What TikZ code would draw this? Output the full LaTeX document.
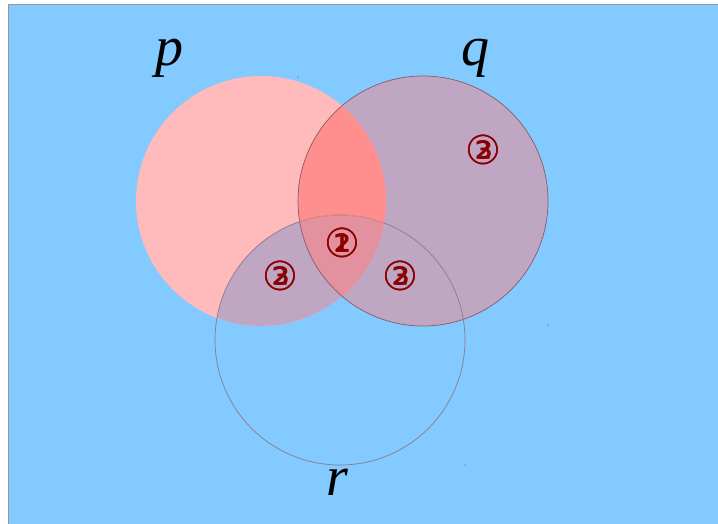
\documentclass[tikz,border=0pt]{standalone}
\usepackage{fontspec}
\newfontfamily\symfont{DejaVu Sans}
\newfontfamily\labfont{Liberation Serif}
\definecolor{bgblue}{HTML}{82CAFF}
\definecolor{pinkp}{HTML}{FFBBBB}
\definecolor{purq}{HTML}{BFA7C4}
\definecolor{salmon}{HTML}{FF8E8E}
\definecolor{centre}{HTML}{E3919F}
\definecolor{qline}{HTML}{8A5A62}
\definecolor{rline}{HTML}{907A7E}
\definecolor{numred}{HTML}{8B0000}
\tikzset{
  setlabel/.style={font=\labfont\itshape\fontsize{56}{56}\selectfont, inner sep=0pt},
  numlabel/.style={font=\symfont\fontsize{40}{40}\selectfont, text=numred, inner sep=0pt},
  dotmark/.style={fill=black!60, draw=none}
}
\begin{document}
\begin{tikzpicture}[x=1pt,y=-1pt]
\useasboundingbox (0,0) rectangle (718,524);
\fill[white] (0,0) rectangle (718,524);
\draw[fill=bgblue, draw=black!40, line width=1pt] (8.5,4.5) rectangle (720,526);
\def\pc{(261,201) circle[radius=125]}
\def\qc{(423,201) circle[radius=125]}
\def\rc{(340,340) circle[radius=125]}
\fill[pinkp] \pc;
\fill[purq] \qc;
\begin{scope}
  \clip \pc;
  \fill[purq] \rc;
  \fill[salmon] \qc;
  \clip \qc;
  \fill[centre] \rc;
\end{scope}
\draw[qline, line width=0.7pt] \qc;
\draw[rline, line width=0.7pt] \rc;
\begin{scope}
  \clip \pc;
  \clip \qc;
  \draw[salmon!80!rline, line width=0.7pt] \rc;
\end{scope}
\node[setlabel] (lp) at (169,58) {p};
\node[setlabel] (lq) at (475,58) {q};
\node[setlabel] (lr) at (337,482) {r};
\node[numlabel] (n1a) at (342,243) {①};
\node[numlabel] (n1b) at (342,243) {②};
\node[numlabel] (n2a) at (280,276) {③};
\node[numlabel] (n2b) at (280,276) {②};
\node[numlabel] (n3a) at (400,276) {②};
\node[numlabel] (n3b) at (400,276) {③};
\node[numlabel] (n4a) at (483,150) {②};
\node[numlabel] (n4b) at (483,150) {③};
\fill[dotmark] (298,77) circle[radius=0.7];
\fill[dotmark, fill=black!30] (216,214) circle[radius=0.7];
\fill[dotmark] (548,325) circle[radius=0.7];
\fill[dotmark] (465,465) circle[radius=0.7];
\end{tikzpicture}
\end{document}
